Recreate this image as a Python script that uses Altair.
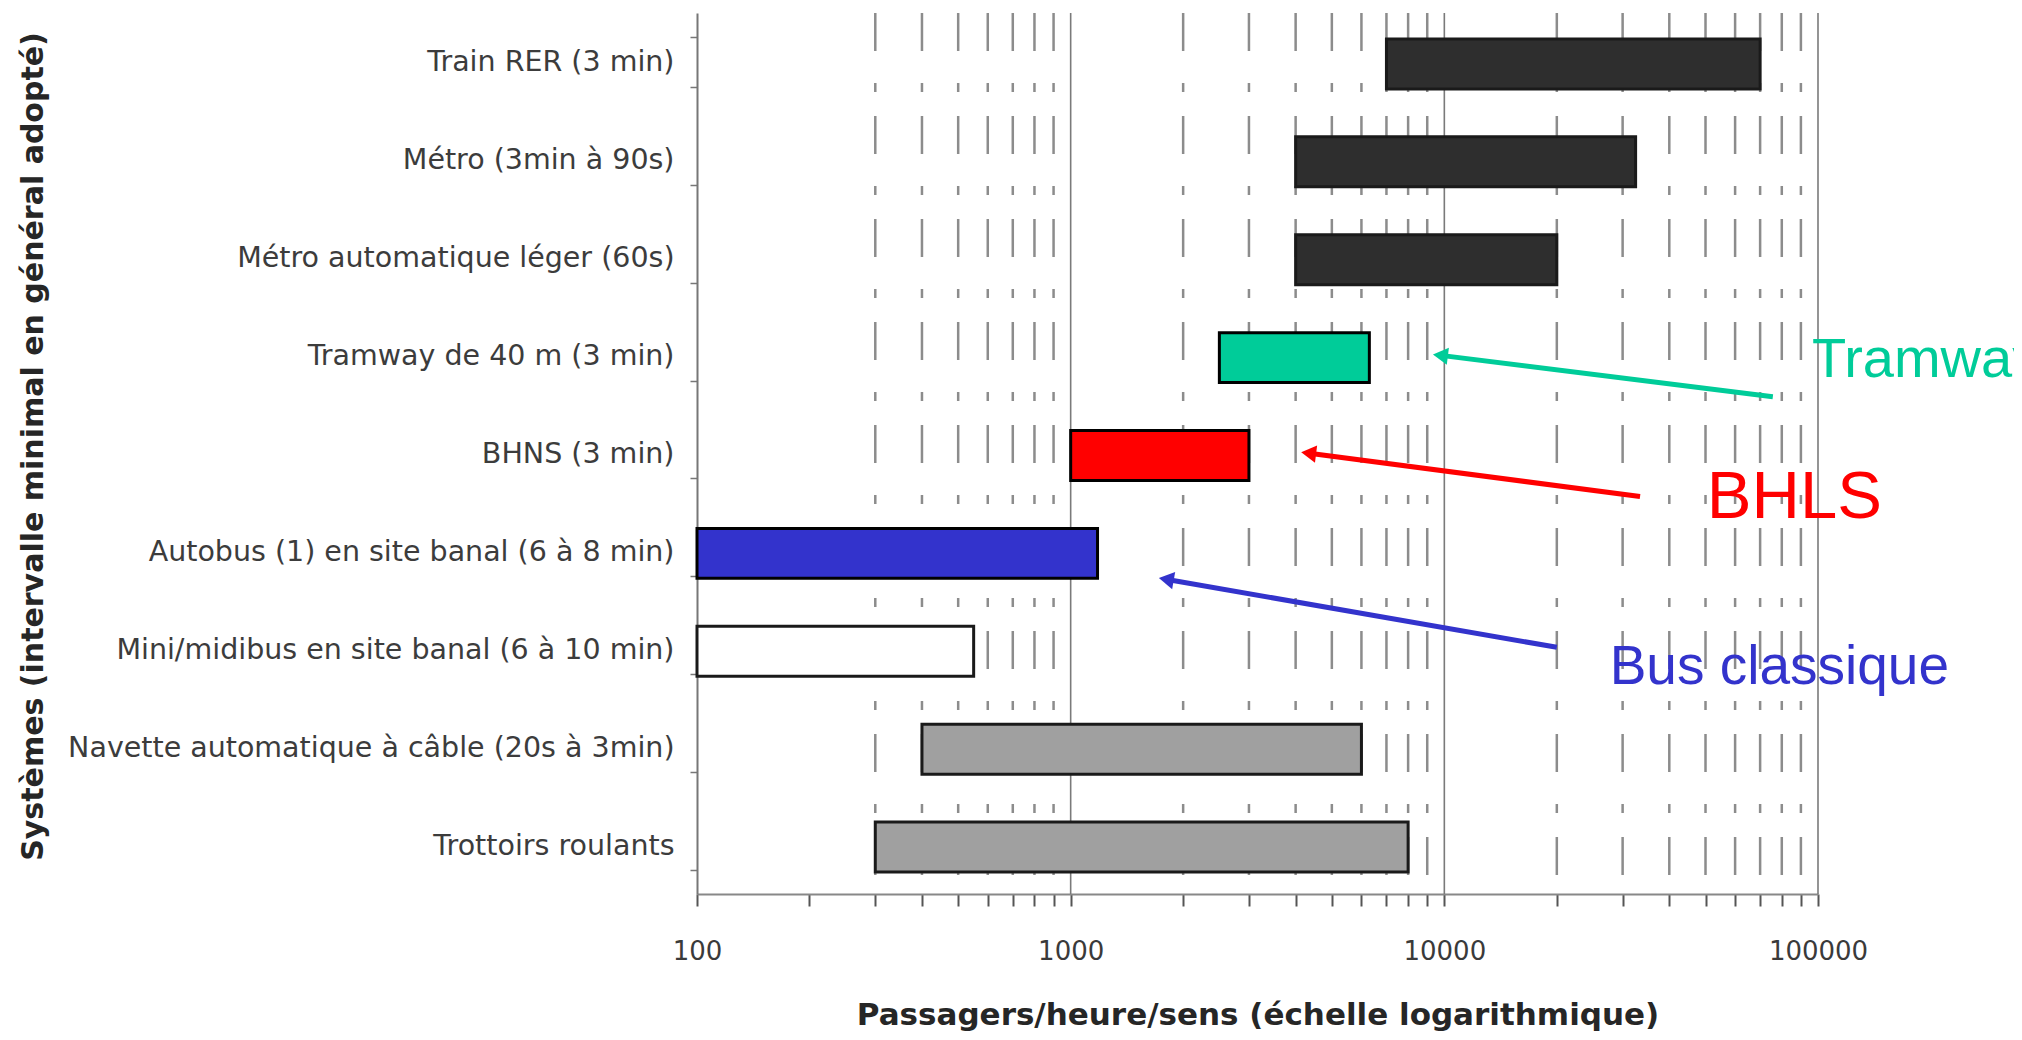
import altair as alt
import pandas as pd

# ---- data ----
categories = [
    "Train RER (3 min)",
    "Métro (3min à 90s)",
    "Métro automatique léger (60s)",
    "Tramway de 40 m (3 min)",
    "BHNS (3 min)",
    "Autobus (1) en site banal (6 à 8 min)",
    "Mini/midibus en site banal (6 à 10 min)",
    "Navette automatique à câble (20s à 3min)",
    "Trottoirs roulants",
]
low_values = [7000, 4000, 4000, 2500, 1000, 100, 100, 400, 300]
high_values = [70000, 32500, 20000, 6300, 3000, 1180, 550, 6000, 8000]
fill_colors = ["#2e2e2e", "#2e2e2e", "#2e2e2e", "#00CC99", "#FF0000",
               "#3333CC", "#FFFFFF", "#A0A0A0", "#A0A0A0"]
stroke_colors = ["#1a1a1a", "#1a1a1a", "#1a1a1a", "#000000", "#000000",
                 "#000000", "#1a1a1a", "#1a1a1a", "#1a1a1a"]

tick_values = [100, 200, 300, 400, 500, 600, 700, 800, 900,
               1000, 2000, 3000, 4000, 5000, 6000, 7000, 8000, 9000,
               10000, 20000, 30000, 40000, 50000, 60000, 70000, 80000, 90000,
               100000]
tick_labels = [100, 1000, 10000, 100000]
minor_grid = [300, 400, 500, 600, 700, 800, 900,
              2000, 3000, 4000, 5000, 6000, 7000, 8000, 9000,
              20000, 30000, 40000, 50000, 60000, 70000, 80000, 90000]
major_grid = [1000, 10000, 100000]

ann_labels = ["Tramway", "BHLS", "Bus classique"]
ann_colors = ["#00CC99", "#FF0000", "#3333CC"]
ann_text_x = [96400, 50400, 27700]
ann_text_y = [3.72, 5.16, 6.85]          # in row units (0 = top, 9 = bottom)
ann_font_size = [56, 67, 55]
arrow_tail_x = [75700, 33400, 20000]
arrow_tail_y = [3.92, 4.94, 6.48]
arrow_head_x = [9910, 4400, 1830]
arrow_head_y = [3.50, 4.50, 5.79]
arrow_angle = [277, 277, 280]

# ---- tables ----
bars_df = pd.DataFrame({
    "cat": categories, "low": low_values, "high": high_values,
    "fill": fill_colors, "stroke": stroke_colors,
})
ann_df = pd.DataFrame({
    "label": ann_labels, "color": ann_colors,
    "tx": ann_text_x, "ty": ann_text_y, "fs": ann_font_size,
    "x0": arrow_tail_x, "y0": arrow_tail_y,
    "x1": arrow_head_x, "y1": arrow_head_y, "ang": arrow_angle,
})
minor_df = pd.DataFrame({"v": minor_grid})
major_df = pd.DataFrame({"v": major_grid})

W, H = 1121, 881

xscale = alt.Scale(type="log", domain=[100, 100000], nice=False)
yq = alt.Scale(domain=[0, 9], reverse=True, nice=False, zero=False)

label_list = ",".join(str(v) for v in tick_labels)
xaxis = alt.Axis(
    values=tick_values, format="d",
    labelExpr=f"indexof([{label_list}], datum.value) >= 0 ? datum.label : ''",
    labelOverlap=False, labelFlush=False,
    labelFont="DejaVu Sans", labelFontSize=26, labelColor="#3a3a3a",
    labelPadding=32,
    tickSize=12, tickColor="#555555", tickWidth=2,
    domainColor="#888888", domainWidth=2, grid=False,
    title="Passagers/heure/sens (échelle logarithmique)",
    titleFont="DejaVu Sans", titleFontWeight="bold", titleFontSize=31,
    titleColor="#262626", titleY=130, titleBaseline="alphabetic",
)
yaxis = alt.Axis(
    tickBand="extent", tickSize=7, tickColor="#777777", tickWidth=1.5,
    domainColor="#777777", domainWidth=2, grid=False,
    labelFont="DejaVu Sans", labelFontSize=28.5, labelColor="#3c3c3c",
    labelPadding=16, labelLimit=0,
    title="Systèmes (intervalle minimal en général adopté)",
    titleFont="DejaVu Sans", titleFontWeight="bold", titleFontSize=30,
    titleColor="#262626", titleX=-664, titleY=433, titleBaseline="middle",
    titleAngle=270,
)

minor = alt.Chart(minor_df).mark_rule(
    color="#8c8c8c", strokeWidth=2.5, strokeDash=[38, 32, 9, 24]
).encode(x=alt.X("v:Q", scale=xscale, axis=xaxis))

major = alt.Chart(major_df).mark_rule(
    color="#7a7a7a", strokeWidth=1.6
).encode(x=alt.X("v:Q", scale=xscale, axis=xaxis))

bars = alt.Chart(bars_df).mark_bar(strokeWidth=3, yOffset=2).encode(
    x=alt.X("low:Q", scale=xscale, axis=xaxis),
    x2="high:Q",
    y=alt.Y("cat:N", sort=categories,
            scale=alt.Scale(paddingInner=0.49, paddingOuter=0.245),
            axis=yaxis),
    fill=alt.Fill("fill:N", scale=None),
    stroke=alt.Stroke("stroke:N", scale=None),
)

arrows = alt.Chart(ann_df).mark_rule(strokeWidth=5).encode(
    x=alt.X("x0:Q", scale=xscale, axis=xaxis),
    x2="x1:Q",
    y=alt.Y("y0:Q", scale=yq, axis=None),
    y2="y1:Q",
    color=alt.Color("color:N", scale=None),
)

heads = alt.Chart(ann_df).mark_point(
    shape="triangle", filled=True, size=300, opacity=1
).encode(
    x=alt.X("x1:Q", scale=xscale, axis=xaxis),
    y=alt.Y("y1:Q", scale=yq, axis=None),
    angle=alt.Angle("ang:Q", scale=None),
    color=alt.Color("color:N", scale=None),
)

texts = alt.Chart(ann_df).mark_text(
    align="left", baseline="alphabetic", font="Liberation Sans"
).encode(
    x=alt.X("tx:Q", scale=xscale, axis=xaxis),
    y=alt.Y("ty:Q", scale=yq, axis=None),
    text="label:N",
    color=alt.Color("color:N", scale=None),
    size=alt.Size("fs:Q", scale=None),
)

chart = alt.layer(minor, major, bars, arrows, heads, texts).resolve_scale(
    y="independent"
).properties(
    width=W, height=H,
    autosize=alt.AutoSizeParams(type="none"),
    padding={"left": 689, "top": 5, "right": 196, "bottom": 140},
    background="white",
).configure_view(strokeWidth=0)

chart.save("out.html", embed_options={"renderer": "svg", "actions": False})
